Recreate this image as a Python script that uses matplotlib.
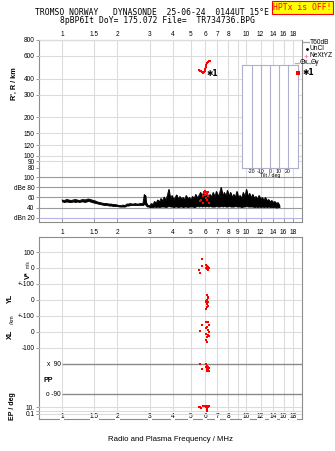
import numpy as np
import matplotlib
matplotlib.use("Agg")
import matplotlib.pyplot as plt
from matplotlib.lines import Line2D
from matplotlib.ticker import NullLocator

# ---- values ----
freq_ticks = [1, 1.5, 2, 3, 4, 5, 6, 7, 8, 9, 10, 12, 14, 16, 18]
freq_labels = ["1", "1.5", "2", "3", "4", "5", "6", "7", "8", "9", "10", "12", "14", "16", "18"]
height_ticks = [80, 90, 100, 120, 150, 200, 300, 400, 600, 800]

# echo trace (virtual height)
trace_f = [5.55, 5.62, 5.69, 5.77, 5.84, 5.92, 5.99, 6.02, 6.05, 6.07, 6.12, 6.18, 6.25, 6.33, 6.38]
trace_h = [467, 462, 455, 448, 445, 452, 462, 478, 495, 510, 525, 535, 542, 548, 545]

# noise / amplitude profile (dB)
amp_f = [1.00, 1.03, 1.06, 1.09, 1.12, 1.15, 1.18, 1.21, 1.24, 1.27, 1.30, 1.33, 1.36, 1.39,
         1.42, 1.45, 1.48, 1.52, 1.56, 1.60, 1.65, 1.70, 1.75, 1.80, 1.85, 1.90, 1.95, 2.00,
         2.05, 2.10, 2.15, 2.20, 2.25, 2.30, 2.35, 2.40, 2.45, 2.50, 2.55, 2.60, 2.65, 2.70,
         2.75, 2.78, 2.80, 2.82, 2.84, 2.86, 2.90, 2.95,
         3.00, 3.06, 3.12, 3.18, 3.25, 3.31, 3.38, 3.45, 3.52, 3.59, 3.66, 3.73, 3.81, 3.88,
         3.96, 4.04, 4.12, 4.20, 4.29, 4.37, 4.46, 4.55, 4.64, 4.73, 4.83, 4.92, 5.02, 5.12,
         5.23, 5.33, 5.44, 5.55, 5.66, 5.77, 5.89, 6.00, 6.12, 6.25, 6.37, 6.50, 6.63, 6.76,
         6.90, 7.04, 7.18, 7.32, 7.47, 7.62, 7.77, 7.92, 8.08, 8.24, 8.41, 8.58, 8.75, 8.92,
         9.10, 9.28, 9.47, 9.66, 9.85, 10.05, 10.25, 10.45, 10.66, 10.88, 11.09, 11.32, 11.54,
         11.77, 12.01, 12.25, 12.49, 12.74, 13.00, 13.26, 13.52, 13.79, 14.07, 14.35, 14.64,
         14.93, 15.20]
amp_hi = [55, 54, 56, 55, 54, 55, 56, 55, 54, 55, 56, 55, 56, 57,
          56, 55, 54, 53, 51, 50, 49, 48, 48, 47, 47, 46, 46, 45,
          44, 44, 45, 44, 47, 47, 48, 47, 47, 48, 47, 47, 48, 48,
          48, 58, 66, 60, 64, 52, 46, 44,
          44, 48, 46, 52, 49, 55, 51, 58, 53, 61, 54, 63, 76, 56,
          64, 55, 60, 65, 56, 62, 57, 60, 55, 64, 56, 60, 55, 62,
          58, 66, 59, 64, 70, 61, 72, 62, 71, 60, 66, 61, 70, 60,
          72, 62, 68, 80, 62, 70, 61, 74, 62, 70, 60, 66, 60, 72,
          59, 64, 58, 70, 60, 76, 61, 68, 59, 66, 58, 62, 56,
          64, 56, 60, 54, 60, 53, 56, 51, 54, 50, 52, 48,
          50, 44]
amp_lo = [52, 51, 52, 51, 51, 52, 51, 52, 51, 52, 52, 51, 52, 53,
          52, 51, 50, 49, 48, 47, 46, 45, 45, 44, 44, 43, 43, 43,
          42, 42, 42, 42, 44, 44, 45, 45, 45, 45, 45, 45, 45, 45,
          45, 46, 48, 46, 46, 44, 42, 42,
          41, 41, 41, 42, 41, 42, 41, 42, 42, 42, 41, 42, 43, 42,
          42, 41, 42, 42, 41, 42, 42, 41, 42, 42, 41, 42, 42, 42,
          41, 42, 43, 42, 43, 42, 43, 42, 43, 42, 43, 42, 42, 42,
          43, 42, 42, 43, 42, 43, 42, 42, 43, 42, 42, 42, 43, 42,
          42, 42, 41, 42, 42, 43, 42, 42, 42, 42, 41, 42, 41,
          42, 41, 42, 41, 42, 41, 42, 41, 41, 41, 41, 40,
          41, 41]
echo_amp_f = [5.62, 5.70, 5.85, 5.92, 6.00, 6.07, 6.15, 6.22, 6.07, 6.15, 5.85, 6.22, 6.00, 6.30]
echo_amp_db = [52, 55, 62, 68, 72, 70, 66, 62, 58, 55, 50, 70, 64, 49]

# bottom panel echo parameters
v_f = [5.77, 5.77, 6.07, 6.15, 6.22, 6.07, 6.15, 6.30, 6.22, 5.55, 5.62]
v_val = [56, 15, 20, 10, 5, 0, -5, 0, -15, -10, -30]
yl_f = [6.15, 6.22, 6.22, 6.15, 6.07, 6.07, 6.22, 6.15, 6.22, 6.15, 6.07]
yl_val = [30, 20, 12, 0, -5, -12, -10, -25, -35, -45, -55]
xl_f = [6.07, 6.22, 5.77, 6.30, 6.15, 6.07, 5.62, 6.22, 6.30, 6.07, 6.22, 6.15, 6.30, 6.07, 6.15]
xl_val = [62, 62, 44, 45, 30, 25, 6, 10, 0, -10, -20, -30, -25, -50, -60]
pp_f = [5.62, 5.77, 6.07, 6.15, 6.22, 6.30, 6.07, 6.15, 6.22, 6.30, 6.15, 6.22]
pp_val = [90, 60, 88, 80, 72, 66, 70, 60, 55, 50, 48, 62]
ep_f = [5.55, 5.62, 5.70, 5.84, 6.02, 6.07, 6.12, 6.18, 6.25, 6.30, 6.12, 6.15]
ep_val = [8, 12, 6, 15, 20, 12, 25, 18, 10, 15, 2, 1]
tilt_ticks = [-20, -10, 0, 10, 20]

# ---- layout helpers (pixel boxes, origin top-left) ----
W, H = 335, 451
fig = plt.figure(figsize=(W / 100, H / 100), dpi=100)

def rect(x0, y0, x1, y1):
    return [x0 / W, 1 - y1 / H, (x1 - x0) / W, (y1 - y0) / H]

def fx(x):
    return x / W

def fy(y):
    return 1 - y / H

def lim_lin(v1, p1, v2, p2, top, bot):
    k = (v2 - v1) / (p2 - p1)
    return v1 + (bot - p1) * k, v1 + (top - p1) * k

def lim_log(v1, p1, v2, p2, top, bot):
    a, b = lim_lin(np.log10(v1), p1, np.log10(v2), p2, top, bot)
    return 10 ** a, 10 ** b

fmin, fmax = 10 ** ((39 - 62) / 184), 10 ** ((302 - 62) / 184)
GRID = "#dcdcdc"
FRAME = "#8c8c8c"
DARK = "#8a8a8a"
RED = "#ff0000"
SANS = "Liberation Sans"
MONO = "DejaVu Sans Mono"
TS = 4.7


def frame_axes(box):
    ax = fig.add_axes(rect(*box))
    ax.set_xscale("log")
    ax.set_xlim(fmin, fmax)
    ax.set_ylim(0, 1)
    ax.set_yticks([])
    ax.set_xticks(freq_ticks)
    ax.xaxis.set_minor_locator(NullLocator())
    for s in ax.spines.values():
        s.set_color(FRAME)
        s.set_linewidth(0.8)
    ax.grid(axis="x", color=GRID, lw=0.8)
    ax.set_axisbelow(True)
    return ax


def layer_axes(box, ylim, log=False):
    ax = fig.add_axes(rect(*box))
    ax.patch.set_alpha(0)
    for s in ax.spines.values():
        s.set_visible(False)
    ax.set_xscale("log")
    ax.set_xlim(fmin, fmax)
    ax.set_xticks([])
    ax.xaxis.set_minor_locator(NullLocator())
    if log:
        ax.set_yscale("log")
        ax.yaxis.set_minor_locator(NullLocator())
    ax.set_ylim(*ylim)
    ax.tick_params(axis="y", length=2, width=0.6, color=FRAME, pad=1.2, labelsize=TS)
    return ax


def set_yt(ax, ticks, labels):
    ax.set_yticks(ticks)
    ax.set_yticklabels(labels, family=SANS, fontsize=TS)
    ax.yaxis.set_minor_locator(NullLocator())


# ================= upper panel =================
ax_top = frame_axes((39, 40, 302, 222))
ax_top.tick_params(axis="x", direction="in", length=3, width=0.6, color=FRAME,
                   labelsize=TS, pad=5)
ax_top.set_xticklabels(freq_labels, family=SANS, fontsize=TS)
for f, lab in zip(freq_ticks, freq_labels):
    if lab != "9":
        ax_top.text(f, 1.0 + 2.0 / 182, lab, transform=ax_top.get_xaxis_transform(),
                    ha="center", va="bottom", fontsize=TS, family=SANS)

ax_h = layer_axes((39, 40, 302, 168), (80, 800), log=True)
set_yt(ax_h, height_ticks, [str(v) for v in height_ticks])
ax_h.grid(axis="y", color=GRID, lw=0.8)
ax_h.plot(trace_f, trace_h, color=RED, lw=1.1, marker="s", ms=1.6, mew=0, zorder=5)
ax_h.text(6.07, 441, "\u27311", fontsize=5.5, fontweight="bold", family="DejaVu Sans",
          va="center", ha="left", zorder=6)

ax_a = layer_axes((39, 170, 302, 222), lim_lin(80, 187.3, 20, 217.7, 170, 222))
set_yt(ax_a, [100, 80, 60, 40, 20], ["100", "dBe 80", "60", "40", "dBn 20"])
for lvl in [100, 80, 60, 40]:
    ax_a.axhline(lvl, color="#9a9a9a", lw=0.8, zorder=1)
ax_a.axhline(20, color="#b4b4e6", lw=0.8, zorder=1)
ax_a.fill_between(amp_f, amp_lo, amp_hi, color="black", lw=0.6, zorder=3)
ax_a.plot(amp_f, amp_hi, color="black", lw=0.6, zorder=3)
ax_a.plot(echo_amp_f, echo_amp_db, ls="none", marker="s", ms=2.0, mew=0, color=RED, zorder=4)

# tilt inset
ax_t = fig.add_axes(rect(242, 65, 298, 168))
ax_t.set_facecolor("white")
ax_t.set_xlim(-31, 31)
ax_t.set_ylim(0, 1)
ax_t.set_yticks([])
ax_t.set_xticks(tilt_ticks)
ax_t.set_xticklabels([str(v) for v in tilt_ticks], family=SANS, fontsize=3.8)
ax_t.tick_params(axis="x", length=0, pad=0.6)
for v in tilt_ticks:
    ax_t.axvline(v, color="#b0b0cc", lw=0.8)
for s in ax_t.spines.values():
    s.set_color("#b0b0cc")
    s.set_linewidth(0.8)
ax_t.set_xlabel("Tilt / deg", family=SANS, fontsize=3.8, labelpad=-0.5)

# legend
def leg_line(x0, x1, y, color):
    fig.add_artist(Line2D([fx(x0), fx(x1)], [fy(y), fy(y)], color=color, lw=0.9))

leg_line(303, 309, 42, "#a0a0a0")
fig.text(fx(310), fy(42), "T60dB", fontsize=4.8, family=SANS, va="center")
fig.add_artist(Line2D([fx(307)], [fy(49)], marker="o", ms=1.0, color="black", ls="none"))
fig.text(fx(310), fy(49), "UnCl", fontsize=4.8, family=SANS, va="center")
fig.add_artist(Line2D([fx(306)], [fy(55.5)], marker="+", ms=3.2, mew=0.6, color="#ff80a0", ls="none"))
fig.text(fx(310), fy(55.5), "NeXtYZ", fontsize=4.8, family=SANS, va="center")
leg_line(295, 299, 63, "#ff9090")
fig.text(fx(299.5), fy(63), "\u0398x", fontsize=4.8, family=SANS, va="center")
leg_line(307, 310.5, 63, "#9090ff")
fig.text(fx(311), fy(63), "\u0398y", fontsize=4.8, family=SANS, va="center")
fig.add_artist(Line2D([fx(298)], [fy(72.5)], marker="s", ms=2.4, mew=0, color=RED, ls="none"))
fig.text(fx(302.5), fy(72.5), "\u27311", fontsize=5.5, family="DejaVu Sans",
         fontweight="bold", va="center")

# ================= lower panel =================
ax_bot = frame_axes((39, 237, 302, 419))
ax_bot.set_xticklabels([])
ax_bot.tick_params(axis="x", length=0)
for f, lab in zip(freq_ticks, freq_labels):
    if lab != "9":
        ax_bot.text(f, 3.0 / 182, lab, transform=ax_bot.get_xaxis_transform(), ha="center",
                    va="center", fontsize=TS, family=SANS,
                    bbox=dict(facecolor="white", edgecolor="none", pad=0.3))
ax_bot.set_xlabel("Radio and Plasma Frequency / MHz", family=SANS, fontsize=5.6, labelpad=9)

ax_v = layer_axes((39, 237, 302, 284), lim_lin(100, 252, -100, 284, 237, 284))
set_yt(ax_v, [100, 0], ["100", "0"])
ax_v.grid(axis="y", color=GRID, lw=0.8)
ax_v.plot(v_f, v_val, ls="none", marker="s", ms=2.0, mew=0, color=RED, zorder=4)

ax_yl = layer_axes((39, 284, 302, 316), (-100, 100))
set_yt(ax_yl, [100, 0], ["+-100", "0"])
ax_yl.grid(axis="y", color=GRID, lw=0.8)
ax_yl.plot(yl_f, yl_val, ls="none", marker="s", ms=2.0, mew=0, color=RED, zorder=4)

ax_xl = layer_axes((39, 316, 302, 364), lim_lin(100, 316, -100, 348, 316, 364))
set_yt(ax_xl, [100, 0, -100], ["+-100", "0", "-100"])
ax_xl.grid(axis="y", color=GRID, lw=0.8)
ax_xl.plot(xl_f, xl_val, ls="none", marker="s", ms=2.0, mew=0, color=RED, zorder=4)

ax_pp = layer_axes((39, 364, 302, 394), (-90, 90))
ax_pp.set_yticks([])
ax_pp.set_ylim(-90, 90)
ax_pp.hlines([90, -90], 1.0, fmax, color=DARK, lw=1.0, clip_on=False)
ax_pp.text(0.985, 90, "x  90", ha="right", va="center", fontsize=TS, family=SANS)
ax_pp.text(0.985, -90, "o -90", ha="right", va="center", fontsize=TS, family=SANS)
ax_pp.text(0.79, -6, "PP", ha="left", va="center", fontsize=5, family=SANS, fontweight="bold")
ax_pp.plot(pp_f, pp_val, ls="none", marker="s", ms=2.0, mew=0, color=RED, zorder=4,
           clip_on=False)

ax_ep = layer_axes((39, 394, 302, 419), lim_log(10, 407, 0.1, 414, 394, 419), log=True)
set_yt(ax_ep, [10, 1, 0.1], ["10.", "", "0.1"])
ax_ep.grid(axis="y", color=GRID, lw=0.8)
ax_ep.plot(ep_f, ep_val, ls="none", marker="s", ms=2.0, mew=0, color=RED, zorder=4)

# axis titles
fig.text(fx(14), fy(84), "R', R / km", rotation=90, ha="center", va="center",
         fontsize=5.2, family=SANS, fontweight="bold")
fig.text(fx(28.5), fy(275), "V*", rotation=90, ha="center", va="center",
         fontsize=5.2, family=SANS, fontweight="bold")
fig.text(fx(28.5), fy(264.5), "m/s", rotation=90, ha="center", va="center",
         fontsize=3.4, family=SANS)
fig.text(fx(10), fy(298), "YL", rotation=90, ha="center", va="center",
         fontsize=5.2, family=SANS, fontweight="bold")
fig.text(fx(12), fy(320), "/km", rotation=90, ha="center", va="center",
         fontsize=3.8, family=SANS)
fig.text(fx(10), fy(334), "XL", rotation=90, ha="center", va="center",
         fontsize=5.2, family=SANS, fontweight="bold")
fig.text(fx(13), fy(406), "EP / deg", rotation=90, ha="center", va="center",
         fontsize=5.0, family=SANS, fontweight="bold")

# header
fig.text(fx(35), fy(12.5), "TROMSO NORWAY   DYNASONDE  25-06-24  0144UT 15\u00b0E",
         family=MONO, fontsize=5.75, va="center", ha="left")
fig.text(fx(60), fy(20.5), "8pBP6It DoY= 175.072 File=  TR734736.BPG",
         family=MONO, fontsize=5.75, va="center", ha="left")
fig.text(fx(302.5), fy(7.5), "HPTx is OFF!", family=MONO, fontsize=5.9, color=RED,
         ha="center", va="center",
         bbox=dict(facecolor="#ffff00", edgecolor=RED, lw=0.8, pad=1.2))

fig.savefig("out.png", dpi=100)
